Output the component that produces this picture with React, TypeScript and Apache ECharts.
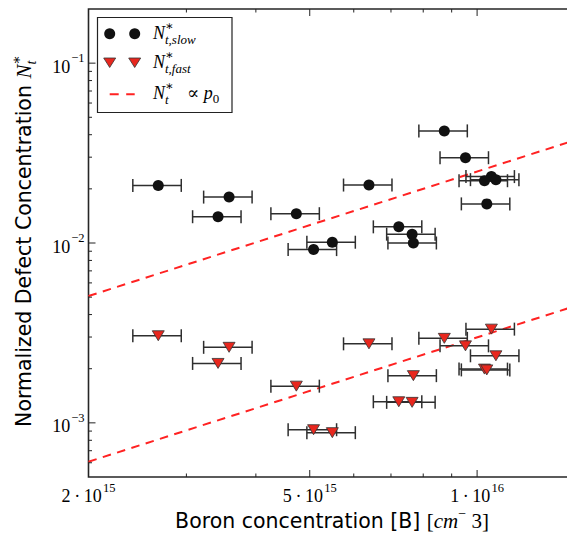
import React, { useEffect, useRef } from 'react';
import * as echarts from 'echarts';

// ---- data ----
const slowX = [2.67e15, 3.58e15, 3.42e15, 4.73e15, 5.49e15, 5.08e15, 8.73e15, 9.53e15, 6.39e15, 1.061e16, 1.031e16, 1.081e16, 1.041e16, 7.23e15, 7.64e15, 7.68e15];
const slowY = [0.0209, 0.018, 0.014, 0.01455, 0.0101, 0.00919, 0.042, 0.0298, 0.021, 0.0234, 0.0222, 0.0225, 0.0165, 0.0123, 0.0112, 0.01];
const fastX = [2.67e15, 3.58e15, 3.42e15, 4.73e15, 5.08e15, 5.49e15, 1.061e16, 8.73e15, 9.53e15, 6.39e15, 1.081e16, 1.031e16, 1.041e16, 7.68e15, 7.23e15, 7.64e15];
const fastY = [0.00305, 0.00263, 0.00214, 0.0016, 0.000916, 0.000882, 0.00332, 0.00295, 0.00268, 0.00275, 0.00236, 0.00199, 0.00197, 0.00183, 0.00131, 0.0013];
const xErrFrac = 0.1; // relative horizontal uncertainty (±10 %)
const upperLine = [[2e15, 0.00507], [1.5e16, 0.0373]];
const lowerLine = [[2e15, 0.000608], [1.5e16, 0.00446]];

const xMin = 2e15, xMax = 1.5e16, yMin = 5e-4, yMax = 0.2;
const xTickMajor = [2e15, 5e15, 1e16];
const xTickMinor = [3e15, 4e15, 6e15, 7e15, 8e15, 9e15];
const xTickLabels = [['2\u2009·\u200910', '15'], ['5\u2009·\u200910', '15'], ['1\u2009·\u200910', '16']];
const yTickMajor = [1e-3, 1e-2, 1e-1];
const yTickMinor = [6e-4, 7e-4, 8e-4, 9e-4, 2e-3, 3e-3, 4e-3, 5e-3, 6e-3, 7e-3, 8e-3, 9e-3, 2e-2, 3e-2, 4e-2, 5e-2, 6e-2, 7e-2, 8e-2, 9e-2];
const yTickLabels = [['10', '−3'], ['10', '−2'], ['10', '−1']];

// ---- text helpers ----
const SERIF = '"Liberation Serif", "DejaVu Serif", serif';
const SANS = '"DejaVu Sans", sans-serif';
type Seg = { t: string; size: number; fam: string; it?: boolean; dy?: number; gap?: number; stackNext?: boolean };
let mctx: CanvasRenderingContext2D | null = null;
function measure(t: string, size: number, fam: string, it?: boolean) {
  if (!mctx) mctx = document.createElement('canvas').getContext('2d');
  mctx!.font = `${it ? 'italic ' : ''}${size}px ${fam}`;
  return mctx!.measureText(t).width;
}
function mathText(segs: Seg[], x: number, y: number, align: 'left' | 'center' | 'right', fill = '#000') {
  const widths = segs.map((s) => measure(s.t, s.size, s.fam, s.it));
  let total = 0;
  let pend = 0;
  const offs: number[] = [];
  segs.forEach((s, i) => {
    total += s.gap || 0;
    offs.push(total);
    if (s.stackNext) pend = widths[i];
    else {
      total += Math.max(widths[i], pend);
      pend = 0;
    }
  });
  const start = align === 'left' ? x : align === 'center' ? x - total / 2 : x - total;
  return segs.map((s, i) => ({
    type: 'text',
    x: start + offs[i],
    y: y + (s.dy || 0),
    style: {
      text: s.t,
      fontSize: s.size,
      fontFamily: s.fam,
      fontStyle: s.it ? 'italic' : 'normal',
      fill,
      align: 'left',
      verticalAlign: 'middle',
    },
  }));
}

const TICK = '#222';
function tl(x1: number, y1: number, x2: number, y2: number) {
  return { type: 'line', shape: { x1, y1, x2, y2 }, style: { stroke: TICK, lineWidth: 1 } };
}

function errorData(xs: number[], ys: number[]) {
  return xs.map((x, i) => [x, ys[i], x * (1 - xErrFrac), x * (1 + xErrFrac)]);
}

function errorSeries(xs: number[], ys: number[]) {
  return {
    type: 'custom',
    z: 3,
    silent: true,
    data: errorData(xs, ys),
    encode: { x: [0, 2, 3], y: 1 },
    renderItem: (_p: any, api: any) => {
      const y = api.value(1);
      const a = api.coord([api.value(2), y]);
      const b = api.coord([api.value(3), y]);
      const h = 6.5;
      const st = { stroke: '#2e2e2e', lineWidth: 1.5 };
      return {
        type: 'group',
        children: [
          { type: 'line', shape: { x1: a[0], y1: a[1], x2: b[0], y2: b[1] }, style: st },
          { type: 'line', shape: { x1: a[0], y1: a[1] - h, x2: a[0], y2: a[1] + h }, style: st },
          { type: 'line', shape: { x1: b[0], y1: b[1] - h, x2: b[0], y2: b[1] + h }, style: st },
        ],
      };
    },
  };
}

const axisDecor = {
  type: 'custom',
  z: 6,
  silent: true,
  data: [[xMin, yMin]],
  renderItem: (_p: any, api: any) => {
    const children: any[] = [];
    const yb = api.coord([xMin, yMin])[1];
    const yt = api.coord([xMin, yMax])[1];
    const xl = api.coord([xMin, yMin])[0];
    const xr = api.coord([xMax, yMin])[0];
    xTickMajor.forEach((v) => {
      const px = api.coord([v, yMin])[0];
      children.push(tl(px, yb, px, yb - 7), tl(px, yt, px, yt + 7));
    });
    xTickMinor.forEach((v) => {
      const px = api.coord([v, yMin])[0];
      children.push(tl(px, yb, px, yb - 3.5), tl(px, yt, px, yt + 3.5));
    });
    yTickMajor.forEach((v) => {
      const py = api.coord([xMin, v])[1];
      children.push(tl(xl, py, xl + 7, py), tl(xr, py, xr - 7, py));
    });
    yTickMinor.forEach((v) => {
      const py = api.coord([xMin, v])[1];
      children.push(tl(xl, py, xl + 3.5, py), tl(xr, py, xr - 3.5, py));
    });
    xTickMajor.forEach((v, i) => {
      const px = api.coord([v, yMin])[0];
      children.push(
        ...mathText(
          [
            { t: xTickLabels[i][0], size: 18, fam: SERIF },
            { t: xTickLabels[i][1], size: 12.5, fam: SERIF, dy: -7.5, gap: 1.2 },
          ],
          px,
          yb + 18.5,
          'center',
        ),
      );
    });
    yTickMajor.forEach((v, i) => {
      const py = api.coord([xMin, v])[1];
      children.push(
        ...mathText(
          [
            { t: yTickLabels[i][0], size: 18, fam: SERIF, dy: 3.5 },
            { t: yTickLabels[i][1], size: 12.5, fam: SERIF, dy: -5, gap: 1 },
          ],
          xl - 4,
          py,
          'right',
        ),
      );
    });
    return { type: 'group', children };
  },
};

function buildLegend() {
  const els: any[] = [];
  els.push({
    type: 'rect',
    shape: { x: 97.5, y: 17.5, width: 134.5, height: 95 },
    style: { fill: '#fff', stroke: '#222', lineWidth: 1.2 },
  });
  const mx = [109.7, 134.7];
  mx.forEach((x) => {
    els.push({ type: 'circle', shape: { cx: x, cy: 33.7, r: 5.5 }, style: { fill: '#111' } });
    els.push({
      type: 'polygon',
      shape: { points: [[x - 6, 58], [x + 6, 58], [x, 67.5]] },
      style: { fill: '#e8271e', stroke: '#333', lineWidth: 0.8 },
    });
  });
  els.push({
    type: 'line',
    shape: { x1: 109.7, y1: 94.3, x2: 134.7, y2: 94.3 },
    style: { stroke: '#f22', lineWidth: 2, lineDash: [9, 7.5] },
  });
  const row = (sub: string, y: number) =>
    mathText(
      [
        { t: 'N', size: 18, fam: SERIF, it: true },
        { t: '∗', size: 12.5, fam: SERIF, dy: -7, stackNext: true },
        { t: sub, size: 13, fam: SERIF, it: true, dy: 6.5 },
      ],
      153,
      y,
      'left',
    );
  els.push(...row('t,slow', 33));
  els.push(...row('t,fast', 62));
  els.push(
    ...mathText(
      [
        { t: 'N', size: 18, fam: SERIF, it: true },
        { t: '∗', size: 12.5, fam: SERIF, dy: -7, stackNext: true },
        { t: 't', size: 13, fam: SERIF, it: true, dy: 6.5 },
        { t: '   ∝ ', size: 18, fam: SERIF },
        { t: 'p', size: 18, fam: SERIF, it: true },
        { t: '0', size: 13, fam: SERIF, dy: 5 },
      ],
      153,
      93,
      'left',
    ),
  );
  return { type: 'group', z: 100, children: els };
}

function buildTitles() {
  const xTitle = {
    type: 'group',
    children: mathText(
      [
        { t: 'Boron concentration [B] ', size: 20.5, fam: SANS },
        { t: '[', size: 21, fam: SERIF },
        { t: 'cm', size: 21, fam: SERIF, it: true },
        { t: '−', size: 14, fam: SERIF, dy: -8 },
        { t: ' 3]', size: 21, fam: SERIF },
      ],
      332,
      521,
      'center',
    ),
  };
  const yTitle = {
    type: 'group',
    x: 24,
    y: 241,
    rotation: Math.PI / 2,
    children: mathText(
      [
        { t: 'Normalized Defect Concentration ', size: 20.5, fam: SANS },
        { t: 'N', size: 21, fam: SERIF, it: true },
        { t: '∗', size: 14, fam: SERIF, dy: -8, stackNext: true },
        { t: 't', size: 14, fam: SERIF, it: true, dy: 7 },
      ],
      0,
      0,
      'center',
    ),
  };
  return [xTitle, yTitle];
}

export default function App() {
  const ref = useRef<HTMLDivElement>(null);
  useEffect(() => {
    const chart = echarts.init(ref.current!, null, { renderer: 'svg' });
    const option: any = {
      animation: false,
      backgroundColor: '#fff',
      grid: {
        left: 88.5,
        right: -8,
        top: 9,
        bottom: 56,
        show: true,
        borderColor: '#262626',
        borderWidth: 1.6,
        backgroundColor: 'transparent',
        outerBoundsMode: 'none',
        containLabel: false,
      },
      xAxis: {
        type: 'log',
        logBase: 10,
        min: xMin,
        max: xMax,
        axisLine: { show: false },
        axisTick: { show: false },
        axisLabel: { show: false },
        splitLine: { show: false },
      },
      yAxis: {
        type: 'log',
        logBase: 10,
        min: yMin,
        max: yMax,
        axisLine: { show: false },
        axisTick: { show: false },
        axisLabel: { show: false },
        splitLine: { show: false },
      },
      series: [
        {
          type: 'line',
          z: 2,
          data: upperLine,
          showSymbol: false,
          symbol: 'none',
          lineStyle: { color: '#f22', width: 2, type: [8.5, 6.5] },
          silent: true,
        },
        {
          type: 'line',
          z: 2,
          data: lowerLine,
          showSymbol: false,
          symbol: 'none',
          lineStyle: { color: '#f22', width: 2, type: [8.5, 6.5] },
          silent: true,
        },
        errorSeries(slowX, slowY),
        errorSeries(fastX, fastY),
        {
          type: 'scatter',
          z: 4,
          data: slowX.map((x, i) => [x, slowY[i]]),
          symbol: 'circle',
          symbolSize: 11,
          itemStyle: { color: '#111', opacity: 1 },
        },
        {
          type: 'scatter',
          z: 4,
          data: fastX.map((x, i) => [x, fastY[i]]),
          symbol: 'triangle',
          symbolRotate: 180,
          symbolSize: [12, 10],
          itemStyle: { color: '#e8271e', borderColor: '#333', borderWidth: 0.8, opacity: 1 },
        },
        axisDecor,
      ],
      graphic: [buildLegend(), ...buildTitles()],
    };
    chart.setOption(option);
    return () => chart.dispose();
  }, []);
  return <div ref={ref} style={{ position: 'fixed', left: 0, top: 0, width: 567, height: 533 }} />;
}
